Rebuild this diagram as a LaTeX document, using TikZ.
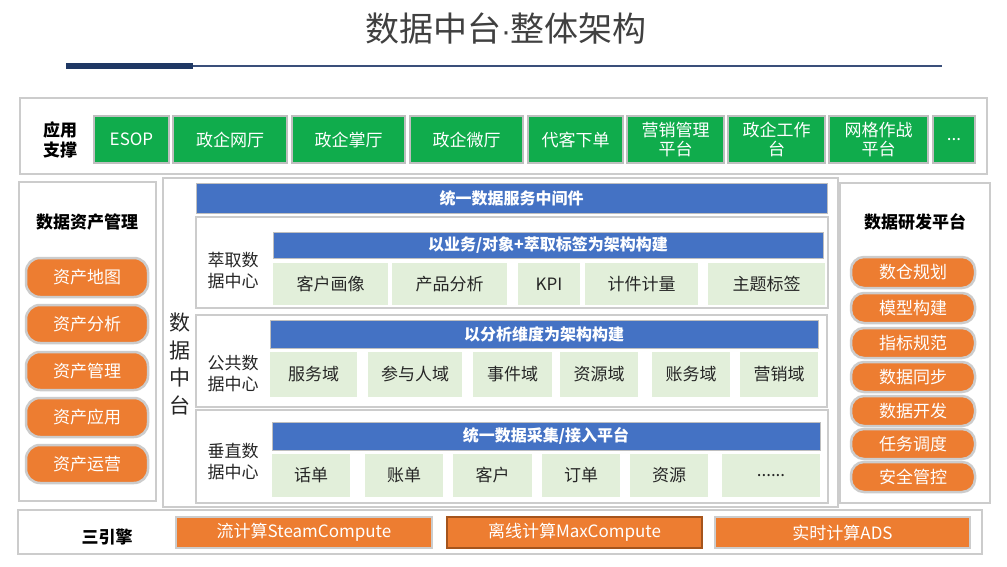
\documentclass[tikz,border=0pt]{standalone}
\usepackage{fontspec}
\setmainfont{Noto Sans CJK SC}
\newfontfamily\dotfont{Liberation Sans}
\definecolor{gborder}{HTML}{CCCCCC}
\definecolor{gbox}{HTML}{BFBFBF}
\definecolor{appgreen}{HTML}{10AC4C}
\definecolor{barblue}{HTML}{4472C4}
\definecolor{orng}{HTML}{ED7D31}
\definecolor{cellgreen}{HTML}{E2EFDA}
\definecolor{navy}{HTML}{1F3864}
\definecolor{thinline}{HTML}{3A4F7A}
\definecolor{titlegray}{HTML}{404040}
\definecolor{txt}{HTML}{262626}
\definecolor{brownb}{HTML}{A5541C}
\newcommand\mybox[7]{\node[#6, minimum width={#4-#2}, minimum height={#5-#3}, inner sep=0pt] (#1) at ({(#2+#4)/2},{(#3+#5)/2}) {#7};}
\tikzset{
  panel/.style={draw=gborder, line width=2pt, fill=white},
  secbox/.style={draw=gborder, line width=2pt, fill=white},
  appbox/.style={draw=gbox, line width=1.5pt, fill=appgreen, text=white, align=center, font=\fontsize{17}{19}\selectfont},
  bluebar/.style={draw=gbox, line width=0.8pt, fill=barblue, text=white, font=\fontsize{16}{18}\selectfont\bfseries},
  cell/.style={fill=cellgreen, text=txt, font=\fontsize{17}{19}\selectfont},
  lpill/.style={draw=gborder, line width=2.5pt, fill=orng, rounded corners=14pt, text=white, font=\fontsize{17}{19}\selectfont},
  rpill/.style={draw=gborder, line width=2.5pt, fill=orng, rounded corners=13pt, text=white, font=\fontsize{17}{19}\selectfont},
  engine/.style={draw=gborder, line width=1.5pt, fill=orng, text=white, font=\fontsize{17}{19}\selectfont},
  seclabel/.style={text=txt, align=center, font=\fontsize{17}{21}\selectfont},
  headlabel/.style={text=black, align=center, font=\fontsize{17}{20}\selectfont\bfseries},
}
\begin{document}
\begin{tikzpicture}[x=1pt,y=-1pt]
\useasboundingbox[fill=white] (0,0) rectangle (1007,567);
% title
\node[text=titlegray, font=\fontsize{34}{36}\selectfont] (title) at (506,29) {数据中台{\dotfont\fontsize{30}{32}\selectfont ·}整体架构};
\draw[navy, line width=6pt] (66,66) -- (193,66);
\draw[thinline, line width=2pt] (193,66) -- (942,66);
% application support
\mybox{top}{20}{98}{987}{174}{panel}{}
\node[headlabel] (appl) at (60,140) {应用\\支撑};
\mybox{esop}{94}{116}{169}{163}{appbox}{ESOP}
\mybox{wt}{173}{116}{287}{163}{appbox}{政企网厅}
\mybox{zt}{292}{116}{405}{163}{appbox}{政企掌厅}
\mybox{wei}{410}{116}{523}{163}{appbox}{政企微厅}
\mybox{dk}{528}{116}{623}{163}{appbox}{代客下单}
\mybox{yx}{627}{116}{724}{163}{appbox}{营销管理\\平台}
\mybox{gz}{728}{116}{825}{163}{appbox}{政企工作\\台}
\mybox{wg}{829}{116}{928}{163}{appbox}{网格作战\\平台}
\mybox{more}{933}{116}{975}{163}{appbox}{...}
% left panel
\mybox{lp}{19}{182}{156}{501}{panel}{}
\node[headlabel] (lpt) at (87,222) {数据资产管理};
\mybox{la1}{26}{258}{148}{297}{lpill}{资产地图}
\mybox{la2}{26}{305}{148}{343}{lpill}{资产分析}
\mybox{la3}{26}{352}{148}{390}{lpill}{资产管理}
\mybox{la4}{26}{398}{148}{437}{lpill}{资产应用}
\mybox{la5}{26}{445}{148}{483}{lpill}{资产运营}
% middle
\mybox{mid}{163}{178}{838}{507}{panel}{}
\node[text=txt, align=center, font=\fontsize{21}{27.5}\selectfont] (zt4) at (180,364) {数\\据\\中\\台};
\mybox{svc}{196}{183}{827}{213}{bluebar}{统一数据服务中间件}
% section 1
\mybox{s1}{196}{217}{828}{308}{secbox}{}
\node[seclabel] (s1l) at (233,271) {萃取数\\据中心};
\mybox{b1}{273}{232}{823}{258}{bluebar}{以业务/对象+萃取标签为架构构建}
\mybox{c11}{273}{263}{388}{305}{cell}{客户画像}
\mybox{c12}{392}{263}{507}{305}{cell}{产品分析}
\mybox{c13}{518}{263}{580}{305}{cell}{KPI}
\mybox{c14}{585}{263}{698}{305}{cell}{计件计量}
\mybox{c15}{708}{263}{825}{305}{cell}{主题标签}
% section 2
\mybox{s2}{196}{315}{827}{407}{secbox}{}
\node[seclabel] (s2l) at (233,374) {公共数\\据中心};
\mybox{b2}{270}{320}{818}{348}{bluebar}{以分析维度为架构构建}
\mybox{c21}{270}{352}{357}{397}{cell}{服务域}
\mybox{c22}{368}{352}{462}{397}{cell}{参与人域}
\mybox{c23}{473}{352}{552}{397}{cell}{事件域}
\mybox{c24}{560}{352}{638}{397}{cell}{资源域}
\mybox{c25}{652}{352}{730}{397}{cell}{账务域}
\mybox{c26}{740}{352}{818}{397}{cell}{营销域}
% section 3
\mybox{s3}{196}{410}{828}{503}{secbox}{}
\node[seclabel] (s3l) at (233,462) {垂直数\\据中心};
\mybox{b3}{272}{422}{820}{450}{bluebar}{统一数据采集/接入平台}
\mybox{c31}{272}{454}{350}{497}{cell}{话单}
\mybox{c32}{365}{454}{443}{497}{cell}{账单}
\mybox{c33}{453}{454}{532}{497}{cell}{客户}
\mybox{c34}{542}{454}{620}{497}{cell}{订单}
\mybox{c35}{630}{454}{708}{497}{cell}{资源}
\mybox{c36}{722}{454}{820}{497}{cell}{......}
% right panel
\mybox{rp}{840}{183}{990}{503}{panel}{}
\node[headlabel] (rpt) at (915,222) {数据研发平台};
\mybox{ra1}{851}{257}{975}{288}{rpill}{数仓规划}
\mybox{ra2}{851}{293}{975}{323}{rpill}{模型构建}
\mybox{ra3}{851}{328}{975}{358}{rpill}{指标规范}
\mybox{ra4}{851}{362}{975}{392}{rpill}{数据同步}
\mybox{ra5}{851}{396}{975}{426}{rpill}{数据开发}
\mybox{ra6}{851}{429}{975}{459}{rpill}{任务调度}
\mybox{ra7}{851}{462}{975}{492}{rpill}{安全管控}
% bottom engines
\mybox{bt}{18}{510}{982}{554}{panel}{}
\node[headlabel] (eng) at (107,537) {三引擎};
\mybox{e1}{176}{517}{432}{548}{engine}{流计算SteamCompute}
\mybox{e2}{447}{517}{702}{548}{engine, draw=brownb, line width=2pt}{离线计算MaxCompute}
\mybox{e3}{715}{517}{970}{548}{engine}{实时计算ADS}
\end{tikzpicture}
\end{document}
